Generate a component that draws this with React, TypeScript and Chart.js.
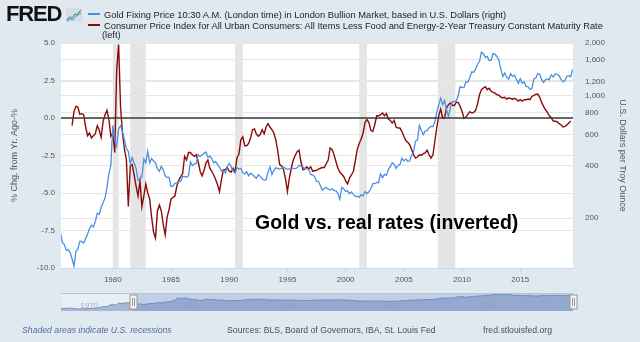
import React, { useEffect, useRef } from 'react';
import { Chart, registerables } from 'chart.js';

Chart.register(...registerables);

// ---------- data (2-month steps) ----------
const STEP = 1 / 6;

// Gold fixing price, USD per troy ounce, from 1975.5 (Jul 1975)
const GOLD_START = 1975.5;
const goldUSD = [
  166, 145, 141,
  131, 132, 127, 117, 106, 129,
  133, 147, 147, 144, 152, 162,
  174, 182, 178, 191, 213, 210,
  230, 245, 260, 300, 357, 400,
  675, 553, 514, 645, 673, 623,
  557, 500, 480, 409, 443, 412,
  384, 328, 334, 342, 435, 413,
  480, 413, 437, 423, 413, 382,
  370, 394, 377, 347, 341, 341,
  303, 304, 316, 317, 323, 325,
  345, 346, 342, 348, 418, 398,
  408, 409, 460, 450, 460, 468,
  477, 444, 451, 437, 413, 420,
  404, 390, 371, 375, 362, 394,
  410, 393, 369, 362, 388, 381,
  384, 363, 357, 368, 349, 360,
  354, 344, 337, 353, 345, 335,
  329, 330, 367, 392, 355, 374,
  387, 384, 381, 385, 391, 384,
  379, 382, 385, 384, 383, 387,
  400, 396, 392, 383, 383, 378,
  355, 352, 345, 324, 323, 306,
  289, 296, 299, 293, 289, 294,
  287, 286, 277, 256, 300, 293,
  284, 286, 275, 282, 273, 266,
  266, 263, 272, 268, 283, 276,
  282, 294, 314, 314, 319, 319,
  357, 340, 355, 351, 378, 393,
  414, 406, 384, 398, 405, 439,
  424, 434, 422, 424, 456, 476,
  550, 557, 676, 633, 599, 628,
  631, 655, 667, 666, 712, 806,
  889, 968, 888, 939, 830, 760,
  858, 924, 928, 934, 996, 1128,
  1117, 1113, 1205, 1193, 1270, 1370,
  1356, 1423, 1512, 1572, 1772, 1739,
  1656, 1674, 1586, 1594, 1744, 1724,
  1670, 1592, 1415, 1286, 1348, 1275,
  1244, 1336, 1288, 1311, 1241, 1176,
  1251, 1179, 1199, 1131, 1125, 1086,
  1097, 1246, 1260, 1337, 1326, 1238,
  1192, 1231, 1246, 1236, 1315, 1281,
  1331, 1324, 1304, 1237, 1199, 1221,
  1291, 1300, 1283, 1412,
];

// Core CPI (yoy %) minus 2-year Treasury yield, from 1976.5
const REAL_START = 1976.5;
const coreCpiLess2y = [
  -0.51, 0.44, 0.78,
  0.73, 0.24, 0.29, 0.22, -0.6, -1.18,
  -1.0, -1.33, -1.18, -1.05, -0.51, -0.82,
  -1.29, -0.22, 0.22, 0.51, -0.11, -1.22,
  -1.0, -2.3, 3.2, 4.9, 0.7, -1.0,
  -2.1, -2.78, -5.9, -3.2, -3.1, -3.8,
  -4.55, -5.2, -4.2, -5.9, -5.2, -4.4,
  -5.0, -5.4, -6.6, -7.6, -8.0, -6.2,
  -5.8, -6.2, -7.1, -7.8, -6.6, -6.1,
  -5.4, -5.3, -5.2, -4.55, -4.15, -3.9,
  -3.7, -2.55, -2.8, -2.3, -2.3, -2.45,
  -2.55, -2.45, -2.9, -3.55, -3.85, -3.5,
  -3.0, -2.8, -3.35, -3.55, -3.8, -4.1,
  -4.45, -4.9, -4.1, -3.45, -3.45, -3.3,
  -3.55, -3.6, -3.35, -3.6, -2.65, -2.4,
  -1.45, -1.25, -1.85, -1.85, -1.7, -1.33,
  -0.78, -0.73, -1.07, -1.22, -1.1, -0.78,
  -1.05, -0.6, -0.38, -0.6, -0.78, -1.0,
  -1.45, -2.2, -3.1, -3.2, -3.45, -4.05,
  -4.9, -4.0, -3.35, -2.8, -2.5, -2.25,
  -2.15, -2.95, -3.45, -3.4, -3.25, -3.4,
  -3.25, -3.55, -3.5, -3.5, -3.4, -3.35,
  -3.3, -3.3, -3.05, -2.8, -2.0, -2.1,
  -2.45, -2.9, -3.35, -3.6, -3.75, -3.9,
  -4.2, -4.4, -4.0, -3.8, -3.55, -2.85,
  -2.1, -1.7, -1.4, -1.0, -0.3, -0.1,
  -0.3, -0.82, -0.9, -0.45, 0.15, 0.15,
  0.22, 0.33, 0.15, 0.29, -0.07, -0.16,
  -0.34, -0.16, -0.6, -0.67, -0.67, -0.9,
  -1.22, -1.5, -1.62, -1.78, -2.1, -2.45,
  -2.67, -2.6, -2.45, -2.5, -2.38, -2.33,
  -2.15, -2.45, -2.67, -2.45, -1.55, -0.6,
  0.15, 0.6, 0.0, 0.0, 0.66, 0.89,
  1.0, 0.86, 0.82, 1.04, 1.04, 0.78,
  0.44, -0.02, 0.06, 0.24, 0.42, 0.33,
  0.38, 0.51, 0.95, 1.55, 1.89, 2.0,
  2.09, 1.89, 1.98, 1.78, 1.71, 1.66,
  1.55, 1.53, 1.38, 1.35, 1.38, 1.26,
  1.33, 1.31, 1.24, 1.31, 1.24, 1.13,
  1.22, 1.13, 1.22, 1.22, 1.26, 1.22,
  1.44, 1.51, 1.57, 1.6, 1.4, 1.04,
  0.78, 0.55, 0.38, 0.15, 0.02, -0.2,
  -0.22, -0.25, -0.38, -0.45, -0.6, -0.56,
  -0.47, -0.33, -0.2,
];

// Earlier gold history shown only in the navigator, from 1968.333
const NAV_START = 1968 + 1 / 3;
const goldEarlyUSD = [
  40, 39, 39, 40,
  42, 43, 43, 42, 41, 36,
  35, 35, 36, 35, 36, 37,
  38, 39, 40, 41, 42, 43,
  46, 48, 54, 65, 65, 63,
  65, 84, 100, 120, 104, 94,
  130, 170, 163, 143, 155, 180,
  178, 178, 167,
];

const recessionStart = [1980.0, 1981.5, 1990.5, 2001.167, 2007.917];
const recessionEnd = [1980.5, 1982.833, 1991.167, 2001.833, 2009.417];

const xTickYears = [1980, 1985, 1990, 1995, 2000, 2005, 2010, 2015];
const leftTicks = [-10, -7.5, -5, -2.5, 0, 2.5, 5];
const rightTicks = [200, 400, 600, 800, 1000, 1200, 1600, 2000];
const navTickYears = [1970, 1980, 1990, 2000, 2010];

const X_MIN = 1975.55;
const X_MAX = 2019.53;
const NAV_MIN = 1968.38;
const NAV_MAX = 2019.46;

// ---------- styles ----------
const FONT = '"Liberation Sans", Arial, sans-serif';
const BLUE = '#4a90e2';
const RED = '#8b0b0b';
const GRID = '#e6e6e6';
const PAGE_BG = '#e1e9f0';
const TICK_COLOR = '#555555';

const toPoints = (start: number, arr: number[]) =>
  arr.map((v, i) => ({ x: start + i * STEP, y: v }));

const mainDecor = {
  id: 'mainDecor',
  beforeDraw(chart: any) {
    const { ctx, chartArea: a, scales } = chart;
    ctx.save();
    ctx.fillStyle = '#ffffff';
    ctx.fillRect(a.left, a.top, a.right - a.left, a.bottom - a.top);
    ctx.fillStyle = '#e5e5e5';
    const xs = scales.x;
    recessionStart.forEach((s, i) => {
      const x0 = Math.max(a.left, xs.getPixelForValue(s));
      const x1 = Math.min(a.right, xs.getPixelForValue(recessionEnd[i]));
      if (x1 > x0) ctx.fillRect(x0, a.top, x1 - x0, a.bottom - a.top);
    });
    ctx.restore();
  },
  afterDatasetsDraw(chart: any) {
    const { ctx, chartArea: a, scales } = chart;
    const y = scales.yL.getPixelForValue(0);
    ctx.save();
    ctx.strokeStyle = '#3a3a3a';
    ctx.lineWidth = 1.5;
    ctx.beginPath();
    ctx.moveTo(a.left, y);
    ctx.lineTo(a.right, y);
    ctx.stroke();
    ctx.restore();
  },
};

const navDecor = {
  id: 'navDecor',
  beforeDraw(chart: any) {
    const { ctx, chartArea: a } = chart;
    ctx.save();
    ctx.fillStyle = '#e8eef5';
    ctx.fillRect(a.left, a.top, a.right - a.left, a.bottom - a.top);
    ctx.restore();
  },
  afterDatasetsDraw(chart: any) {
    const { ctx, chartArea: a, scales } = chart;
    const xs = scales.x;
    ctx.save();
    // labels
    ctx.font = `8px ${FONT}`;
    ctx.fillStyle = '#a3aec0';
    ctx.textBaseline = 'alphabetic';
    navTickYears.forEach((yr) => {
      ctx.fillText(String(yr), xs.getPixelForValue(yr) + 3, a.bottom - 3);
    });
    // selection mask
    const m0 = xs.getPixelForValue(X_MIN);
    const m1 = xs.getPixelForValue(NAV_MAX);
    ctx.fillStyle = 'rgba(102,133,194,0.3)';
    ctx.fillRect(m0, a.top, m1 - m0, a.bottom - a.top);
    // outline
    ctx.strokeStyle = '#b8c2d2';
    ctx.lineWidth = 1;
    ctx.beginPath();
    ctx.moveTo(a.left, a.top + 0.5);
    ctx.lineTo(a.right, a.top + 0.5);
    ctx.stroke();
    // handles
    const cy = (a.top + a.bottom) / 2;
    [m0, m1].forEach((hx) => {
      const x = Math.round(hx) + 0.5;
      ctx.fillStyle = '#f2f2f2';
      ctx.strokeStyle = '#999999';
      ctx.fillRect(x - 3.5, cy - 7, 7, 14);
      ctx.strokeRect(x - 3.5, cy - 7, 7, 14);
      ctx.beginPath();
      ctx.moveTo(x - 1, cy - 4);
      ctx.lineTo(x - 1, cy + 4);
      ctx.moveTo(x + 1, cy - 4);
      ctx.lineTo(x + 1, cy + 4);
      ctx.stroke();
    });
    ctx.restore();
  },
};

export default function App() {
  const mainRef = useRef<HTMLCanvasElement | null>(null);
  const navRef = useRef<HTMLCanvasElement | null>(null);

  useEffect(() => {
    const tickFont = { family: FONT, size: 8 };
    const titleFont = { family: FONT, size: 9 };
    const main = new Chart(mainRef.current as HTMLCanvasElement, {
      type: 'line',
      data: {
        datasets: [
          {
            label: 'Gold Fixing Price',
            data: toPoints(GOLD_START, goldUSD),
            yAxisID: 'yR',
            borderColor: BLUE,
            borderWidth: 1.3,
            pointRadius: 0,
            tension: 0,
          },
          {
            label: 'Core CPI - 2Y Treasury',
            data: toPoints(REAL_START, coreCpiLess2y),
            yAxisID: 'yL',
            borderColor: RED,
            borderWidth: 1.4,
            pointRadius: 0,
            tension: 0,
          },
        ],
      },
      options: {
        animation: false,
        responsive: false,
        devicePixelRatio: 1,
        events: [],
        layout: { padding: { top: 43, left: 0, right: 0, bottom: 0 } },
        plugins: { legend: { display: false }, tooltip: { enabled: false } },
        scales: {
          x: {
            type: 'linear',
            min: X_MIN,
            max: X_MAX,
            afterBuildTicks: (s: any) => {
              s.ticks = xTickYears.map((v) => ({ value: v }));
            },
            ticks: {
              callback: (v: any) => String(v),
              font: tickFont,
              color: TICK_COLOR,
              padding: 3,
              maxRotation: 0,
              autoSkip: false,
            },
            grid: { drawOnChartArea: false, drawTicks: true, tickLength: 4, color: '#ccd6eb' },
            border: { display: true, color: '#ccd6eb' },
            afterFit: (s: any) => {
              s.height = 74;
            },
          },
          yL: {
            type: 'linear',
            position: 'left',
            min: -10,
            max: 5,
            afterBuildTicks: (s: any) => {
              s.ticks = leftTicks.map((v) => ({ value: v }));
            },
            ticks: {
              callback: (v: any) => Number(v).toFixed(1),
              font: tickFont,
              color: TICK_COLOR,
              padding: 6,
            },
            grid: { color: GRID, drawTicks: false },
            border: { display: false },
            title: {
              display: true,
              text: '% Chg. from Yr. Ago-%',
              font: titleFont,
              color: TICK_COLOR,
              padding: { top: 9, bottom: 0 },
            },
            afterFit: (s: any) => {
              s.width = 61;
            },
          },
          yR: {
            type: 'logarithmic',
            position: 'right',
            min: 103.6,
            max: 2000,
            afterBuildTicks: (s: any) => {
              s.ticks = rightTicks.map((v) => ({ value: v }));
            },
            ticks: {
              callback: (v: any) => Number(v).toLocaleString('en-US'),
              font: tickFont,
              color: TICK_COLOR,
              padding: 12,
            },
            grid: { color: GRID, drawTicks: false },
            border: { display: false },
            title: {
              display: true,
              text: 'U.S. Dollars per Troy Ounce',
              font: titleFont,
              color: TICK_COLOR,
              padding: { top: 12, bottom: 0 },
            },
            afterFit: (s: any) => {
              s.width = 67;
            },
          },
        },
      } as any,
      plugins: [mainDecor],
    });

    const nav = new Chart(navRef.current as HTMLCanvasElement, {
      type: 'line',
      data: {
        datasets: [
          {
            data: [...toPoints(NAV_START, goldEarlyUSD), ...toPoints(GOLD_START, goldUSD)],
            borderColor: '#6f8fc3',
            borderWidth: 1,
            backgroundColor: '#a7b9d6',
            fill: 'start',
            pointRadius: 0,
            tension: 0,
          },
        ],
      },
      options: {
        animation: false,
        responsive: false,
        devicePixelRatio: 1,
        events: [],
        layout: { padding: { left: 9, right: 7, top: 1, bottom: 1 } },
        plugins: { legend: { display: false }, tooltip: { enabled: false } },
        scales: {
          x: { type: 'linear', display: false, min: NAV_MIN, max: NAV_MAX },
          y: { type: 'logarithmic', display: false, min: 20, max: 2500 },
        },
      } as any,
      plugins: [navDecor],
    });

    return () => {
      main.destroy();
      nav.destroy();
    };
  }, []);

  const legendText: React.CSSProperties = {
    position: 'absolute',
    left: 104,
    fontFamily: FONT,
    fontSize: 9.3,
    lineHeight: '11px',
    color: '#222',
    whiteSpace: 'nowrap',
  };
  const footer: React.CSSProperties = {
    position: 'absolute',
    top: 325,
    fontFamily: FONT,
    fontSize: 8.7,
    lineHeight: '10px',
    color: '#4d4d4d',
    whiteSpace: 'nowrap',
  };

  return (
    <div
      style={{
        position: 'fixed',
        left: 0,
        top: 0,
        width: 640,
        height: 342,
        background: PAGE_BG,
        overflow: 'hidden',
      }}
    >
      <canvas ref={mainRef} width={640} height={342} style={{ position: 'absolute', left: 0, top: 0 }} />
      <canvas ref={navRef} width={528} height={20} style={{ position: 'absolute', left: 52, top: 292 }} />

      {/* FRED logo */}
      <div
        style={{
          position: 'absolute',
          left: 6,
          top: 1,
          fontFamily: FONT,
          fontWeight: 'bold',
          fontSize: 22,
          lineHeight: '26px',
          letterSpacing: -1.2,
          color: '#111',
        }}
      >
        FRED
      </div>
      <svg width={16} height={14} style={{ position: 'absolute', left: 66, top: 8 }}>
        <rect x={0} y={0} width={16} height={14} fill="#d5dde8" />
        <polyline points="1,12 4,9 6,10 9,6 11,7 15,2" fill="none" stroke="#5a9a6a" strokeWidth={1.2} />
        <polyline points="1,13 4,11 7,12 10,8 15,5" fill="none" stroke="#4a90e2" strokeWidth={1} />
      </svg>

      {/* legend */}
      <div style={{ position: 'absolute', left: 88, top: 13, width: 12, height: 2, background: BLUE }} />
      <div style={{ ...legendText, top: 9.6 }}>
        Gold Fixing Price 10:30 A.M. (London time) in London Bullion Market, based in U.S. Dollars (right)
      </div>
      <div style={{ position: 'absolute', left: 88, top: 24, width: 12, height: 2, background: RED }} />
      <div style={{ ...legendText, top: 20.6 }}>
        Consumer Price Index for All Urban Consumers: All Items Less Food and Energy-2-Year Treasury Constant Maturity Rate
      </div>
      <div style={{ ...legendText, top: 29.6, left: 102 }}>(left)</div>

      {/* annotation */}
      <div
        style={{
          position: 'absolute',
          left: 255,
          top: 212.5,
          fontFamily: FONT,
          fontWeight: 'bold',
          fontSize: 19.5,
          lineHeight: '19.5px',
          color: '#000',
          whiteSpace: 'nowrap',
        }}
      >
        Gold vs. real rates (inverted)
      </div>

      {/* footer */}
      <div style={{ ...footer, left: 22, fontStyle: 'italic', color: '#4f6f9f' }}>
        Shaded areas indicate U.S. recessions
      </div>
      <div style={{ ...footer, left: 227 }}>Sources: BLS, Board of Governors, IBA, St. Louis Fed</div>
      <div style={{ ...footer, left: 483 }}>fred.stlouisfed.org</div>
    </div>
  );
}
